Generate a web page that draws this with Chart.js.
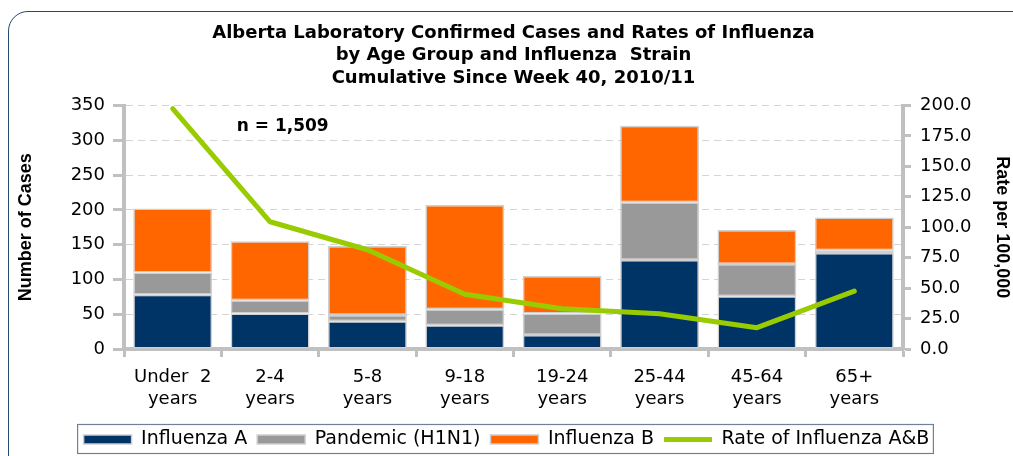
<!DOCTYPE html>
<html>
<head>
<meta charset="utf-8">
<title>Alberta Influenza by Age Group</title>
<script src="https://cdn.jsdelivr.net/npm/chart.js@4.4.0/dist/chart.umd.min.js"></script>
<style>
    body { margin: 0; background: #fff; overflow: hidden; }
    .wrap { position: relative; width: 1013px; height: 456px; overflow: hidden; }
    .frame {
        position: absolute; left: 8px; top: 11px; width: 1030px; height: 470px;
        border: 1.5px solid #26496e; border-radius: 20px; box-sizing: border-box;
    }
    canvas { position: absolute; left: 0; top: 0; }
</style>
</head>
<body>
<div class="wrap">
    <div class="frame"></div>
    <canvas id="fluChart" width="1013" height="459"></canvas>
</div>
<script>
const ageGroups = [
    ["Under  2", "years"], ["2-4", "years"], ["5-8", "years"], ["9-18", "years"],
    ["19-24", "years"], ["25-44", "years"], ["45-64", "years"], ["65+", "years"]
];
const fluA = [78, 51, 40, 34, 20, 128, 76, 138];
const pandemicH1N1 = [32, 19, 9, 23, 31, 83, 46, 4];
const fluB = [92, 85, 99, 150, 54, 110, 49, 47];
const rateAB = [197.5, 104.5, 81.5, 45.0, 33.0, 29.0, 17.5, 47.5];
const casesTicks = { min: 0, max: 350, step: 50 };
const rateTicks = { min: 0, max: 200, step: 25 };
const totalCases = "n = 1,509";

const wideFont = "'DejaVu Sans', sans-serif";
const arialFont = "'Liberation Sans', Arial, sans-serif";
const axisGray = '#c0c0c0';

// text label plus border around the legend
const extrasPlugin = {
    id: 'extras',
    afterDraw(chart) {
        const ctx = chart.ctx;
        const x = chart.scales.x, y = chart.scales.y;
        ctx.save();
        ctx.font = "bold 17px " + wideFont;
        ctx.fillStyle = '#000';
        ctx.textAlign = 'center';
        ctx.textBaseline = 'middle';
        ctx.fillText(totalCases, x.getPixelForValue(1.13), y.getPixelForValue(319));

        const boxes = chart.legend.legendHitBoxes;
        if (boxes && boxes.length) {
            let l = Infinity, r = -Infinity, t = Infinity, b = -Infinity;
            boxes.forEach(h => {
                l = Math.min(l, h.left); r = Math.max(r, h.left + h.width);
                t = Math.min(t, h.top); b = Math.max(b, h.top + h.height);
            });
            const cy = (t + b) / 2;
            ctx.strokeStyle = '#6f8299';
            ctx.lineWidth = 1.2;
            ctx.strokeRect(l - 6, cy - 15, (r - l) + 10, 29);
        }
        ctx.restore();
    }
};

const barBase = { borderColor: '#cfcfcf', borderWidth: 1.5, borderSkipped: false, stack: 'cases', yAxisID: 'y', order: 1 };

new Chart(document.getElementById('fluChart'), {
    data: {
        labels: ageGroups,
        datasets: [
            Object.assign({ type: 'bar', label: 'Influenza A', data: fluA, backgroundColor: '#003366' }, barBase),
            Object.assign({ type: 'bar', label: 'Pandemic (H1N1)', data: pandemicH1N1, backgroundColor: '#999999' }, barBase),
            Object.assign({ type: 'bar', label: 'Influenza B', data: fluB, backgroundColor: '#ff6600' }, barBase),
            {
                type: 'line', label: 'Rate of Influenza A&B', data: rateAB, yAxisID: 'y1', order: 0,
                borderColor: '#99cc00', backgroundColor: '#99cc00', borderWidth: 5,
                pointRadius: 0, tension: 0, borderCapStyle: 'round', borderJoinStyle: 'round'
            }
        ]
    },
    options: {
        responsive: false,
        animation: false,
        devicePixelRatio: 1,
        layout: { padding: { left: 0, right: 0, top: 0, bottom: 0 } },
        datasets: { bar: { categoryPercentage: 1, barPercentage: 0.81 } },
        plugins: {
            title: {
                display: true,
                fullSize: false,
                text: ['Alberta Laboratory Confirmed Cases and Rates of Influenza',
                       'by Age Group and Influenza  Strain',
                       'Cumulative Since Week 40, 2010/11'],
                color: '#000',
                font: { family: wideFont, size: 18, weight: 'bold', lineHeight: 1.25 },
                padding: { top: 22, bottom: 16 }
            },
            legend: {
                position: 'bottom',
                labels: {
                    color: '#000',
                    font: { family: wideFont, size: 19 },
                    usePointStyle: true,
                    pointStyleWidth: 48,
                    boxHeight: 9,
                    padding: 10,
                    sort: (a, b) => a.datasetIndex - b.datasetIndex,
                    generateLabels(chart) {
                        const items = Chart.defaults.plugins.legend.labels.generateLabels(chart);
                        items.forEach(it => {
                            it.pointStyle = chart.data.datasets[it.datasetIndex].type === 'line' ? 'line' : 'rect';
                        });
                        return items;
                    }
                }
            },
            tooltip: { enabled: false }
        },
        scales: {
            x: {
                stacked: true,
                offset: true,
                grid: { display: true, drawOnChartArea: false, offset: true, color: axisGray,
                        tickLength: 8, tickColor: axisGray, tickWidth: 3 },
                border: { color: axisGray, width: 4 },
                ticks: { color: '#000', font: { family: wideFont, size: 18, lineHeight: 1.22 },
                         padding: 9, maxRotation: 0, autoSkip: false },
                afterFit(scale) { scale.height = 71; }
            },
            y: {
                position: 'left',
                stacked: true,
                min: casesTicks.min, max: casesTicks.max,
                grid: { color: '#d4d4d4', lineWidth: 1, tickLength: 11, tickColor: axisGray,
                        tickWidth: 3, tickBorderDash: [] },
                border: { color: axisGray, width: 4, dash: [7, 5] },
                ticks: { stepSize: casesTicks.step, color: '#000', padding: 8,
                         font: { family: wideFont, size: 18 } },
                title: { display: true, text: 'Number of Cases', color: '#000',
                         font: { family: arialFont, size: 18, weight: 'bold' }, padding: { top: 15, bottom: 0 } },
                afterFit(scale) { scale.width = 124; }
            },
            y1: {
                position: 'right',
                min: rateTicks.min, max: rateTicks.max,
                grid: { drawOnChartArea: false, tickLength: 8, tickColor: axisGray, tickWidth: 3, tickBorderDash: [] },
                border: { color: axisGray, width: 4 },
                ticks: { stepSize: rateTicks.step, color: '#000', padding: 9,
                         font: { family: wideFont, size: 18 },
                         callback: v => Number(v).toFixed(1) },
                title: { display: true, text: 'Rate per 100,000', color: '#000',
                         font: { family: arialFont, size: 18, weight: 'bold' }, padding: { top: 0, bottom: 0 } },
                afterFit(scale) { scale.width = 110; }
            }
        }
    },
    plugins: [extrasPlugin]
});
</script>
</body>
</html>
